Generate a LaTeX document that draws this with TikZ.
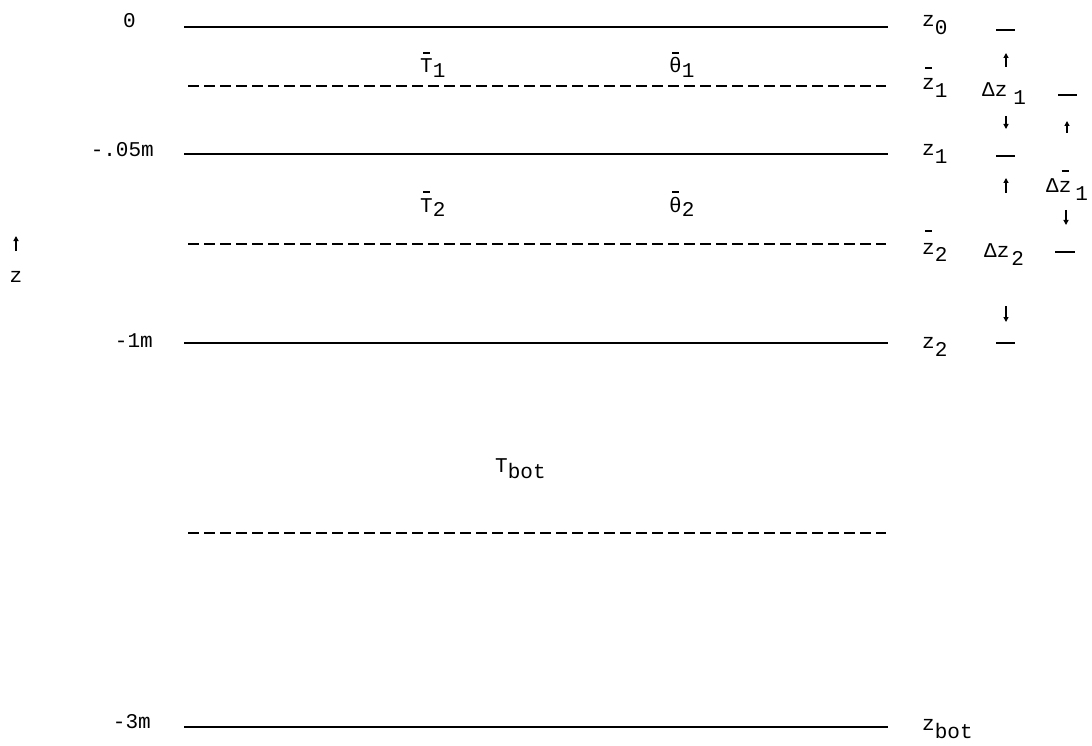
\documentclass[tikz,border=0pt]{standalone}
\usepackage{fontspec}
\setmainfont{Liberation Mono}
\usetikzlibrary{arrows.meta}
\newcommand\sbb[2][8pt]{\raisebox{-#1}{#2}}
\newcommand\ovb[2][20pt]{\leavevmode\setbox0\hbox{#2}\rlap{\hbox to \wd0{\hfil\raisebox{#1}{\rule{7pt}{1.6pt}}\hfil}}\box0}
\begin{document}
\begin{tikzpicture}[x=1pt,y=-1pt,
  lbl/.style={anchor=base west, inner sep=0pt, font=\fontsize{21}{24}\selectfont},
  rlbl/.style={lbl, anchor=base east},
  solidline/.style={line width=1.8pt},
  dashline/.style={line width=1.8pt, dash pattern=on 11pt off 5pt},
  tick/.style={line width=1.8pt},
  darr/.style={line width=1.2pt, -{Triangle[length=5pt,width=5pt]}}]
\useasboundingbox (0,0) rectangle (1092,746);
% layer lines
\coordinate (l0a) at (184,27);  \coordinate (l0b) at (888,27);
\coordinate (d1a) at (188,86);  \coordinate (d1b) at (886,86);
\coordinate (l1a) at (184,154); \coordinate (l1b) at (888,154);
\coordinate (d2a) at (188,244); \coordinate (d2b) at (886,244);
\coordinate (l2a) at (184,343); \coordinate (l2b) at (888,343);
\coordinate (d3a) at (188,533); \coordinate (d3b) at (886,533);
\coordinate (l3a) at (184,727); \coordinate (l3b) at (888,727);
\draw[solidline] (l0a) -- (l0b);
\draw[dashline] (d1a) -- (d1b);
\draw[solidline] (l1a) -- (l1b);
\draw[dashline] (d2a) -- (d2b);
\draw[solidline] (l2a) -- (l2b);
\draw[dashline] (d3a) -- (d3b);
\draw[solidline] (l3a) -- (l3b);
% depth labels
\node[rlbl] (dep0) at (136,28) {0};
\node[rlbl] (dep05) at (154,157) {-.05m};
\node[rlbl] (dep1) at (153,347) {-1m};
\node[rlbl] (dep3) at (151,728) {-3m};
% z axis
\coordinate (za) at (16,251); \coordinate (zb) at (16,236);
\draw[darr] (za) -- (zb);
\node[lbl, anchor=base] (zlab) at (16,282) {z};
% layer quantities
\node[lbl] (T1) at (420,73) {\ovb[19pt]{T}\sbb[5pt]{1}};
\node[lbl] (th1) at (669,73) {\ovb[19pt]{θ}\sbb[5pt]{1}};
\node[lbl] (T2) at (420,212) {\ovb[19pt]{T}\sbb[5pt]{2}};
\node[lbl] (th2) at (669,212) {\ovb[19pt]{θ}\sbb[5pt]{2}};
\node[lbl] (Tb) at (495,472) {T\sbb[6pt]{bot}};
% right column of levels
\node[lbl] (z0) at (922,27) {z\sbb{0}};
\node[lbl] (zbar1) at (922,90) {\ovb[21pt]{z}\sbb{1}};
\node[lbl] (z1) at (922,156) {z\sbb{1}};
\node[lbl] (zbar2) at (922,254) {\ovb[22pt]{z}\sbb{2}};
\node[lbl] (z2) at (922,348) {z\sbb{2}};
\node[lbl] (zbot) at (922,738) {\raisebox{8pt}{z}bot};
% column 2: layer thicknesses
\node[lbl] (dz1) at (982,97) {Δz\sbb{\hspace{6pt}1}};
\node[lbl] (dz2) at (984,258) {Δz\sbb{\hspace{2pt}2}};
\coordinate (t1a) at (996,30);  \coordinate (t1b) at (1015,30);
\coordinate (t2a) at (996,156); \coordinate (t2b) at (1015,156);
\coordinate (t3a) at (996,343); \coordinate (t3b) at (1015,343);
\draw[tick] (t1a) -- (t1b);
\draw[tick] (t2a) -- (t2b);
\draw[tick] (t3a) -- (t3b);
\coordinate (a1s) at (1006,67);  \coordinate (a1e) at (1006,53);
\coordinate (a2s) at (1006,116); \coordinate (a2e) at (1006,129);
\coordinate (a3s) at (1006,193); \coordinate (a3e) at (1006,178);
\coordinate (a4s) at (1006,306); \coordinate (a4e) at (1006,322);
\draw[darr] (a1s) -- (a1e);
\draw[darr] (a2s) -- (a2e);
\draw[darr] (a3s) -- (a3e);
\draw[darr] (a4s) -- (a4e);
% column 3
\node[lbl] (dzb1) at (1046,193) {Δ\ovb[21pt]{z}\sbb{\hspace{4pt}1}};
\coordinate (u1a) at (1058,95);  \coordinate (u1b) at (1077,95);
\coordinate (u2a) at (1055,252); \coordinate (u2b) at (1075,252);
\draw[tick] (u1a) -- (u1b);
\draw[tick] (u2a) -- (u2b);
\coordinate (b1s) at (1067,133); \coordinate (b1e) at (1067,121);
\coordinate (b2s) at (1066,210); \coordinate (b2e) at (1066,225);
\draw[darr] (b1s) -- (b1e);
\draw[darr] (b2s) -- (b2e);
\end{tikzpicture}
\end{document}
